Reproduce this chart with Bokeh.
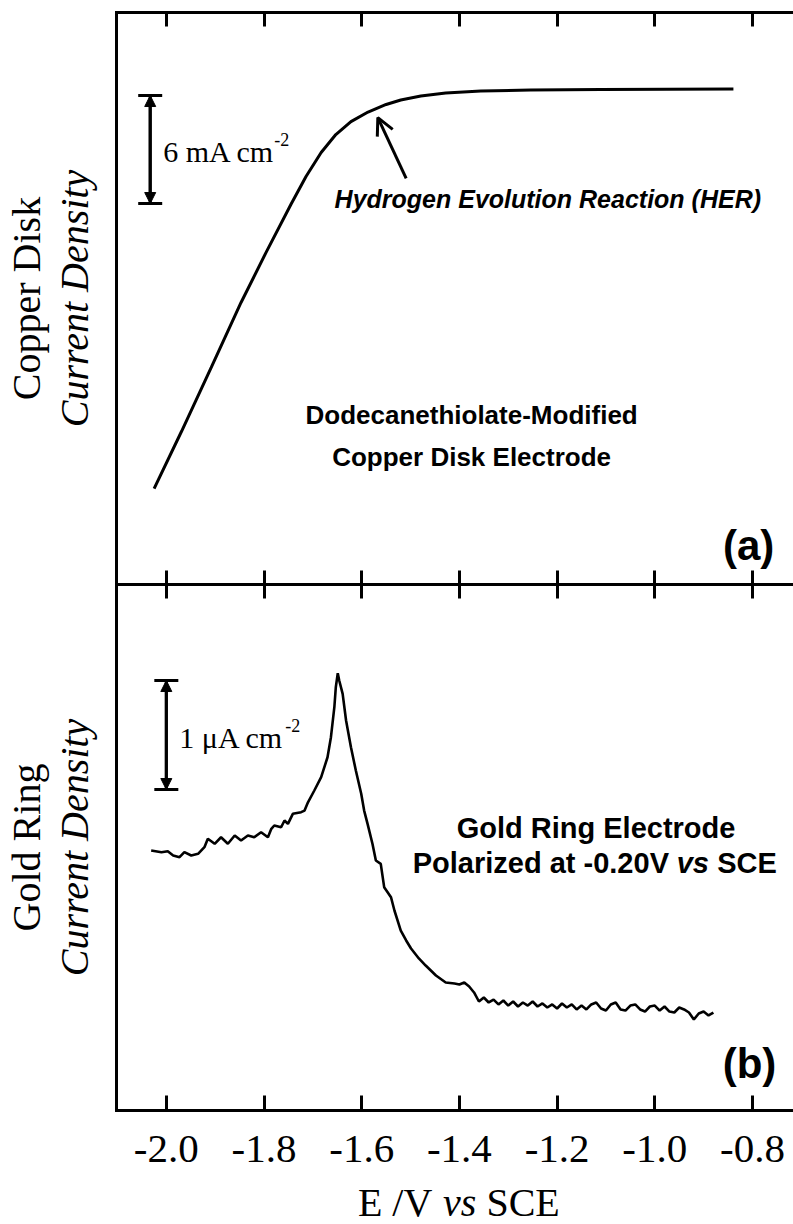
from bokeh.plotting import figure
from bokeh.layouts import column
from bokeh.models import (Range1d, LinearAxis, FixedTicker, PrintfTickFormatter,
                          CustomJSTickFormatter, Arrow, NormalHead, OpenHead, TeeHead,
                          Whisker, Label, ColumnDataSource)
from bokeh.embed import file_html
from bokeh.resources import INLINE

# ---------------------------------------------------------------- data
# (a) dodecanethiolate-modified copper disk: E / V vs SCE, j / mA cm-2
disk_E = [-2.025, -1.969, -1.908, -1.847, -1.796, -1.745, -1.714, -1.683, -1.653,
          -1.622, -1.587, -1.550, -1.520, -1.479, -1.428, -1.356, -1.254, -1.111, -0.839]
disk_j = [-22.17, -19.00, -15.44, -11.83, -9.06, -6.39, -4.83, -3.50, -2.50,
          -1.78, -1.25, -0.83, -0.58, -0.36, -0.19, -0.08, -0.03, 0.00, 0.03]

# (b) gold ring held at -0.20 V vs SCE: E / V vs SCE, j / uA cm-2
ring_E = [-2.031, -2.010, -1.997, -1.986, -1.973, -1.963, -1.949, -1.935, -1.922, -1.915,
          -1.901, -1.888, -1.874, -1.860, -1.847, -1.833, -1.820, -1.806, -1.792, -1.785,
          -1.779, -1.765, -1.758, -1.751, -1.741, -1.724, -1.717, -1.710, -1.697, -1.683,
          -1.670, -1.663, -1.656, -1.653, -1.649, -1.646, -1.639, -1.632, -1.622, -1.612,
          -1.601, -1.595, -1.588, -1.578, -1.571, -1.561, -1.554, -1.540, -1.533, -1.520,
          -1.509, -1.499, -1.483, -1.469, -1.448, -1.428,
          -1.41, -1.40, -1.39, -1.38, -1.37, -1.36, -1.35, -1.34, -1.33, -1.32,
          -1.31, -1.30, -1.29, -1.28, -1.27, -1.26, -1.25, -1.24, -1.23, -1.22,
          -1.21, -1.20, -1.19, -1.18, -1.17, -1.16, -1.15, -1.14, -1.13, -1.12,
          -1.11, -1.10, -1.09, -1.08, -1.07, -1.06, -1.05, -1.04, -1.03, -1.02,
          -1.01, -1.00, -0.99, -0.98, -0.97, -0.96, -0.95, -0.94, -0.93, -0.92,
          -0.91, -0.90, -0.89, -0.88]
ring_j = [1.651, 1.636, 1.645, 1.606, 1.590, 1.636, 1.606, 1.621, 1.682, 1.759,
          1.713, 1.773, 1.713, 1.789, 1.743, 1.789, 1.773, 1.819, 1.773, 1.850,
          1.881, 1.865, 1.927, 1.896, 1.988, 2.003, 2.018, 2.094, 2.202, 2.324,
          2.507, 2.691, 2.966, 3.150, 3.278, 3.211, 3.089, 2.844, 2.599, 2.385,
          2.172, 2.018, 1.896, 1.713, 1.560, 1.529, 1.315, 1.223, 1.101, 0.917,
          0.826, 0.752, 0.661, 0.596, 0.505, 0.440,
          0.431, 0.422, 0.440, 0.404, 0.349, 0.266, 0.303, 0.257, 0.284, 0.239,
          0.275, 0.229, 0.266, 0.220, 0.257, 0.229, 0.266, 0.220, 0.248, 0.211,
          0.239, 0.202, 0.248, 0.211, 0.239, 0.193, 0.229, 0.193, 0.239, 0.257,
          0.202, 0.183, 0.239, 0.257, 0.193, 0.183, 0.229, 0.239, 0.193, 0.174,
          0.220, 0.229, 0.183, 0.220, 0.174, 0.165, 0.211, 0.193, 0.165, 0.101,
          0.156, 0.174, 0.138, 0.165]

E_ticks = [-2.0, -1.8, -1.6, -1.4, -1.2, -1.0, -0.8]
E_range = (-2.102, -0.716)
disk_range = (-27.5, 4.28)
ring_range = (-0.734, 4.092)

# scale bars: (potential, lower end, upper end)
disk_bar = (-2.033, -6.333, -0.333)
ring_bar = (-2.000, 2.211, 3.211)

SERIF = "Liberation Serif"
SANS = "Liberation Sans"


def frame_axis(tick_in):
    """Axis drawn as a frame edge: thick line, inward ticks, no labels."""
    return LinearAxis(ticker=FixedTicker(ticks=E_ticks),
                      formatter=CustomJSTickFormatter(code="return ''"),
                      major_label_text_font_size="0px", major_label_standoff=0,
                      major_tick_in=tick_in, major_tick_out=0,
                      minor_tick_in=0, minor_tick_out=0, minor_tick_line_color=None,
                      axis_line_width=3, major_tick_line_width=3,
                      axis_line_color="black", major_tick_line_color="black",
                      axis_line_cap="square")


def side_labels(p, name):
    inner = LinearAxis(ticker=FixedTicker(ticks=[]), axis_label="Current Density",
                       axis_label_text_font=SERIF, axis_label_text_font_style="italic",
                       axis_label_text_font_size="40px", axis_label_standoff=20,
                       axis_label_text_color="black",
                       major_tick_in=0, major_tick_out=0, minor_tick_in=0, minor_tick_out=0,
                       major_label_standoff=0, axis_line_width=3, axis_line_color="black",
                       axis_line_cap="square")
    outer = LinearAxis(ticker=FixedTicker(ticks=[]), axis_label=name,
                       axis_label_text_font=SERIF, axis_label_text_font_style="normal",
                       axis_label_text_font_size="40px", axis_label_standoff=0,
                       axis_label_text_color="black",
                       major_tick_in=0, major_tick_out=0, minor_tick_in=0, minor_tick_out=0,
                       major_label_standoff=0, axis_line_color=None)
    p.add_layout(inner, "left")
    p.add_layout(outer, "left")


def scale_bar(p, bar, text, sup_dx):
    x, lo, hi = bar
    src = ColumnDataSource(dict(base=[x], lower=[lo], upper=[hi]))
    p.add_layout(Whisker(source=src, base="base", lower="lower", upper="upper",
                         dimension="height", line_width=3, line_color="black",
                         upper_head=TeeHead(size=24, line_width=3, line_color="black"),
                         lower_head=TeeHead(size=24, line_width=3, line_color="black")))
    head = dict(size=11, fill_color="black", line_color="black", line_width=1)
    p.add_layout(Arrow(start=NormalHead(**head), end=NormalHead(**head),
                       x_start=x, y_start=lo, x_end=x, y_end=hi,
                       line_width=3, line_color="black"))
    mid = (lo + hi) / 2
    p.add_layout(Label(x=x, y=mid, text=text, x_offset=13, y_offset=-2,
                       text_font=SERIF, text_font_size="30px", text_align="left",
                       text_baseline="middle", text_color="black"))
    p.add_layout(Label(x=x, y=mid, text="-2", x_offset=13 + sup_dx, y_offset=10,
                       text_font=SERIF, text_font_size="18px", text_align="left",
                       text_baseline="middle", text_color="black"))


def text_runs(p, x, y, runs, size, font, bold=False):
    """Place a line of text made of runs with different styles; runs = (text, italic, dx)."""
    for txt, italic, dx in runs:
        style = ("bold " if bold else "") + ("italic" if italic else "")
        style = style.strip() or "normal"
        p.add_layout(Label(x=x, y=y, text=txt, x_offset=dx, text_font=font,
                           text_font_size=size, text_font_style=style,
                           text_align="left", text_baseline="middle",
                           text_color="black"))


# ---------------------------------------------------------------- (a) copper disk
p1 = figure(width=793, height=584, x_range=Range1d(*E_range), y_range=Range1d(*disk_range),
            output_backend="svg", toolbar_location=None,
            x_axis_location=None, y_axis_location=None,
            min_border_left=115, min_border_right=0, min_border_top=12, min_border_bottom=0,
            outline_line_color=None, background_fill_color="white", border_fill_color="white")
p1.grid.visible = False
p1.add_layout(frame_axis(14), "above")
p1.add_layout(frame_axis(14), "below")
side_labels(p1, "Copper Disk")

p1.line(disk_E, disk_j, line_color="black", line_width=3)
scale_bar(p1, disk_bar, "6 mA cm", 111)

p1.add_layout(Arrow(end=OpenHead(size=17, line_width=3, line_color="black"),
                    x_start=-1.509, y_start=-4.94, x_end=-1.567, y_end=-1.56,
                    line_width=3, line_color="black"))
p1.add_layout(Label(x=-1.219, y=-6.06, text="Hydrogen Evolution Reaction (HER)",
                    text_font=SANS, text_font_size="25px", text_font_style="bold italic",
                    text_align="center", text_baseline="middle", text_color="black"))
p1.add_layout(Label(x=-1.375, y=-18.11, text="Dodecanethiolate-Modified",
                    text_font=SANS, text_font_size="26px", text_font_style="bold",
                    text_align="center", text_baseline="middle", text_color="black"))
p1.add_layout(Label(x=-1.375, y=-20.39, text="Copper Disk Electrode",
                    text_font=SANS, text_font_size="26px", text_font_style="bold",
                    text_align="center", text_baseline="middle", text_color="black"))
p1.add_layout(Label(x=-0.808, y=-25.33, text="(a)", text_font=SANS, text_font_size="42px",
                    text_font_style="bold", text_align="center", text_baseline="middle",
                    text_color="black"))

# ---------------------------------------------------------------- (b) gold ring
p2 = figure(width=793, height=596, x_range=p1.x_range, y_range=Range1d(*ring_range),
            output_backend="svg", toolbar_location=None,
            x_axis_location=None, y_axis_location=None,
            min_border_left=115, min_border_right=0, min_border_top=0, min_border_bottom=70,
            outline_line_color=None, background_fill_color="white", border_fill_color="white")
p2.grid.visible = False
p2.add_layout(frame_axis(14), "above")
bottom = LinearAxis(ticker=FixedTicker(ticks=E_ticks), formatter=PrintfTickFormatter(format="%.1f"),
                    major_tick_in=15, major_tick_out=0, minor_tick_in=0, minor_tick_out=0,
                    minor_tick_line_color=None, axis_line_width=3, major_tick_line_width=3,
                    axis_line_color="black", major_tick_line_color="black", axis_line_cap="square",
                    major_label_text_font=SERIF, major_label_text_font_size="41px",
                    major_label_text_color="black", major_label_standoff=25)
p2.add_layout(bottom, "below")
side_labels(p2, "Gold Ring")

p2.line(ring_E, ring_j, line_color="black", line_width=2.6)
scale_bar(p2, ring_bar, "1 \u03bcA cm", 106)

text_runs(p2, -1.121, 1.86, [("Gold Ring Electrode", False, -139)], "29px", SANS, bold=True)
text_runs(p2, -1.123, 1.54, [("Polarized at -0.20V", False, -182),
                             ("vs", True, 82), ("SCE", False, 122.5)], "29px", SANS, bold=True)
p2.add_layout(Label(x=-0.806, y=-0.30, text="(b)", text_font=SANS, text_font_size="42px",
                    text_font_style="bold", text_align="center", text_baseline="middle",
                    text_color="black"))

# ---------------------------------------------------------------- axis title strip
p3 = figure(width=793, height=44, x_range=p1.x_range, y_range=Range1d(0, 44),
            output_backend="svg", toolbar_location=None,
            x_axis_location=None, y_axis_location=None,
            min_border_left=115, min_border_right=0, min_border_top=0, min_border_bottom=0,
            outline_line_color=None, background_fill_color="white", border_fill_color="white")
p3.grid.visible = False
# "E /V vs SCE" with "vs" in italics
text_runs(p3, -1.401, 22, [("E /V", False, -101), ("vs", True, -16), ("SCE", False, 27.5)],
          "40px", SERIF)

layout = column(p1, p2, p3, spacing=0)
open("out.html", "w").write(file_html(layout, INLINE))
